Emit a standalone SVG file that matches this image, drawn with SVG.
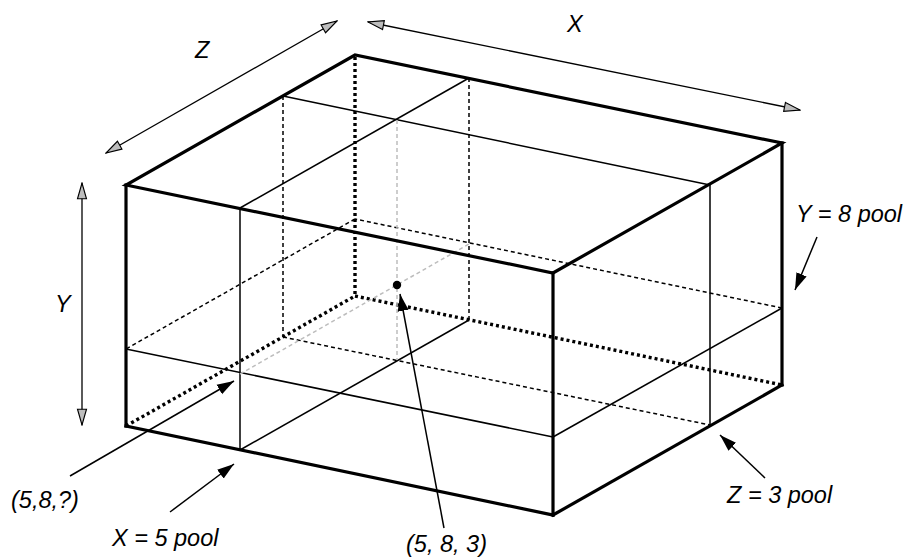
<svg xmlns="http://www.w3.org/2000/svg" width="907" height="558" viewBox="0 0 907 558">
<style>
.thick{stroke:#000;stroke-width:3.2;fill:none;stroke-linecap:square}
.thin{stroke:#000;stroke-width:1.5;fill:none}
.dotted{stroke:#000;stroke-width:3.4;fill:none;stroke-dasharray:3 3}
.dashed{stroke:#000;stroke-width:1.5;fill:none;stroke-dasharray:4 3}
.gray{stroke:#bdbdbd;stroke-width:1.5;fill:none;stroke-dasharray:4 3}
.dim{stroke:#000;stroke-width:1.3;fill:none;marker-start:url(#dimhead);marker-end:url(#dimhead)}
.ptr{stroke:#000;stroke-width:1.5;fill:none;marker-end:url(#ptrhead)}
text{font-family:"Liberation Sans",Arial,sans-serif;font-style:italic;font-size:23.5px;fill:#000}
</style>
<defs>
<marker id="dimhead" markerUnits="userSpaceOnUse" markerWidth="18" markerHeight="12" viewBox="0 0 16 10" refX="15" refY="5" orient="auto-start-reverse">
<path d="M1,1 L15,5 L1,9 Z" fill="#bdbdbd" stroke="#000" stroke-width="1"/>
</marker>
<marker id="ptrhead" markerUnits="userSpaceOnUse" markerWidth="18" markerHeight="12" viewBox="0 0 18 12" refX="17" refY="6" orient="auto">
<path d="M0,0.5 L17,6 L0,11.5 Z" fill="#000"/>
</marker>
</defs>
<rect width="907" height="558" fill="#fff"/>

<g id="hidden-edges">
<line class="dotted" x1="355" y1="57" x2="355" y2="296"/>
<line class="dotted" x1="126" y1="426" x2="355" y2="296"/>
<line class="dotted" x1="355" y1="296" x2="782" y2="385"/>
</g>

<g id="plane-x">
<line class="thin" x1="240" y1="208" x2="240" y2="450"/>
<line class="thin" x1="240" y1="208" x2="469" y2="78"/>
<line class="dashed" x1="469" y1="78" x2="469" y2="320"/>
<line class="thin" x1="240" y1="450" x2="469" y2="320"/>
</g>

<g id="plane-z">
<line class="thin" x1="283" y1="96" x2="710" y2="185"/>
<line class="thin" x1="710" y1="185" x2="710" y2="425"/>
<line class="dashed" x1="283" y1="96" x2="283" y2="337"/>
<line class="dashed" x1="283" y1="337" x2="710" y2="425"/>
</g>

<g id="plane-y">
<line class="thin" x1="126" y1="349" x2="553" y2="437"/>
<line class="thin" x1="553" y1="437" x2="782" y2="308"/>
<line class="dashed" x1="782" y1="308" x2="355" y2="219"/>
<line class="dashed" x1="355" y1="219" x2="126" y2="349"/>
</g>

<g id="point">
<line class="gray" x1="397" y1="120" x2="397" y2="360"/>
<line class="gray" x1="240" y1="374" x2="469" y2="244"/>
<circle cx="397" cy="285" r="4.2" fill="#000"/>
</g>

<g id="box">
<path class="thick" d="M126,185 L553,273 L782,143 L355,55 Z"/>
<line class="thick" x1="126" y1="185" x2="126" y2="426"/>
<line class="thick" x1="553" y1="273" x2="553" y2="515"/>
<line class="thick" x1="782" y1="143" x2="782" y2="385"/>
<line class="thick" x1="126" y1="426" x2="553" y2="515"/>
<line class="thick" x1="553" y1="515" x2="782" y2="385"/>
</g>

<g id="connectors">
<line class="dim" x1="106" y1="153" x2="337" y2="21"/>
<line class="dim" x1="368" y1="22" x2="800" y2="110"/>
<line class="dim" x1="82" y1="183" x2="82" y2="425"/>
<line class="ptr" x1="70" y1="476" x2="234" y2="381"/>
<line class="ptr" x1="170" y1="512" x2="234" y2="464"/>
<line class="ptr" x1="444" y1="528" x2="400" y2="294"/>
<line class="ptr" x1="817" y1="237" x2="795" y2="290"/>
<line class="ptr" x1="765" y1="478" x2="720" y2="435"/>
</g>

<g id="labels">
<text x="195" y="58">Z</text>
<text x="567" y="32">X</text>
<text x="55" y="312">Y</text>
<text x="11" y="508">(5,8,?)</text>
<text x="112" y="546">X = 5 pool</text>
<text x="406" y="552">(5, 8, 3)</text>
<text x="796" y="222">Y = 8 pool</text>
<text x="727" y="503">Z = 3 pool</text>
</g>
</svg>
